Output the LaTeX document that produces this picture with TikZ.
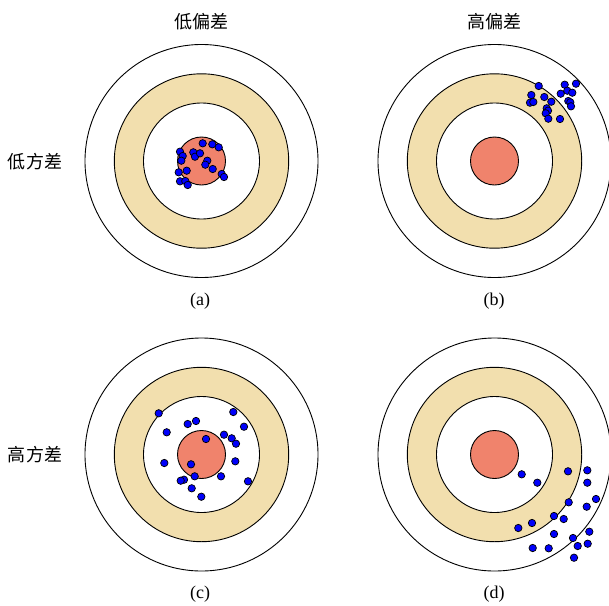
\documentclass[tikz,border=0pt]{standalone}
\usepackage{fontspec}
\setmainfont{Liberation Serif}
\newfontfamily\cjk{Noto Sans CJK SC}
\definecolor{ringbeige}{RGB}{242,223,174}
\definecolor{bullred}{RGB}{240,131,108}
\definecolor{dotblue}{RGB}{0,0,250}
\begin{document}
\begin{tikzpicture}[x=1pt,y=-1pt,
  ring/.style={draw=black,line width=0.9pt},
  dotmark/.style={draw=black,fill=dotblue,line width=0.7pt},
  sublbl/.style={font=\fontsize{18}{20}\selectfont,inner sep=0pt},
  cjklbl/.style={font=\cjk\fontsize{18}{20}\selectfont,inner sep=0pt},
  target/.pic={
    \draw[ring,fill=white] (0,0) circle[radius=116.5pt];
    \draw[ring,fill=ringbeige] (0,0) circle[radius=87.2pt];
    \draw[ring,fill=white] (0,0) circle[radius=58pt];
    \draw[ring,fill=bullred] (0,0) circle[radius=24pt];
  }]
\useasboundingbox (0,0) rectangle (609,605);
\clip (0,0) rectangle (609,605);
\pic at (201.5,161) {target};
\pic at (494.5,161) {target};
\pic at (201.5,454.5) {target};
\pic at (494.5,454.5) {target};
% (a)
\foreach \px/\py in {180/151.7,182.7/156,181.3/160.7,202.7/143.3,212.3/144.3,218.7/147.3,193.3/152.3,195/156.7,200/153.3,207.3/160.7,205.3/164.7,212.7/169,178.7/172.3,186.7/170.7,180/181.3,185.3/181,187.7/185,221.7/174,224/177}
  \filldraw[dotmark] (\px,\py) circle[radius=3.7pt];
% (b)
\foreach \px/\py in {538.7/86,564.7/84.7,576/83.7,560.7/93.7,567.3/90.7,572.3/92.7,531.3/95,544.3/97,530/102.7,533.3/102,551.3/101.7,568.3/101,570.3/102.3,571/106.3,546.7/108.3,548/110.7,545.7/113.3,548.3/118.7,560/119}
  \filldraw[dotmark] (\px,\py) circle[radius=3.7pt];
% (c)
\foreach \px/\py in {158.7/413.3,233.3/412,244/426.7,187.7/424,196/421,166.7/432.3,206/439,224/434.7,231.7/438.3,236/443.7,164.3/463,191/464.3,235.3/461.3,194.7/476.3,221/476.3,184/479.7,180.7/480.7,191.7/488.3,248/481.3,201.3/496.7}
  \filldraw[dotmark] (\px,\py) circle[radius=3.7pt];
% (d)
\foreach \px/\py in {521.7/474.3,537.3/482.7,568/471.3,587.3/470.3,587.3/482.7,568.7/502.3,586.7/506.7,596/499,554/516,563.7/519,532/523,518.3/528,554/534,573/538,589.3/531.7,577.7/546,587.7/543.7,532.7/548,548.7/548.3,574/557.7}
  \filldraw[dotmark] (\px,\py) circle[radius=3.7pt];
% labels
\node[cjklbl] (lowbias) at (201,22) {低偏差};
\node[cjklbl] (highbias) at (494,22) {高偏差};
\node[cjklbl] (lowvar) at (35,161.5) {低方差};
\node[cjklbl] (highvar) at (35,455) {高方差};
\node[sublbl] (la) at (200,301) {(a)};
\node[sublbl] (lb) at (494,301) {(b)};
\node[sublbl] (lc) at (200,594) {(c)};
\node[sublbl] (ld) at (494,594) {(d)};
\end{tikzpicture}
\end{document}
